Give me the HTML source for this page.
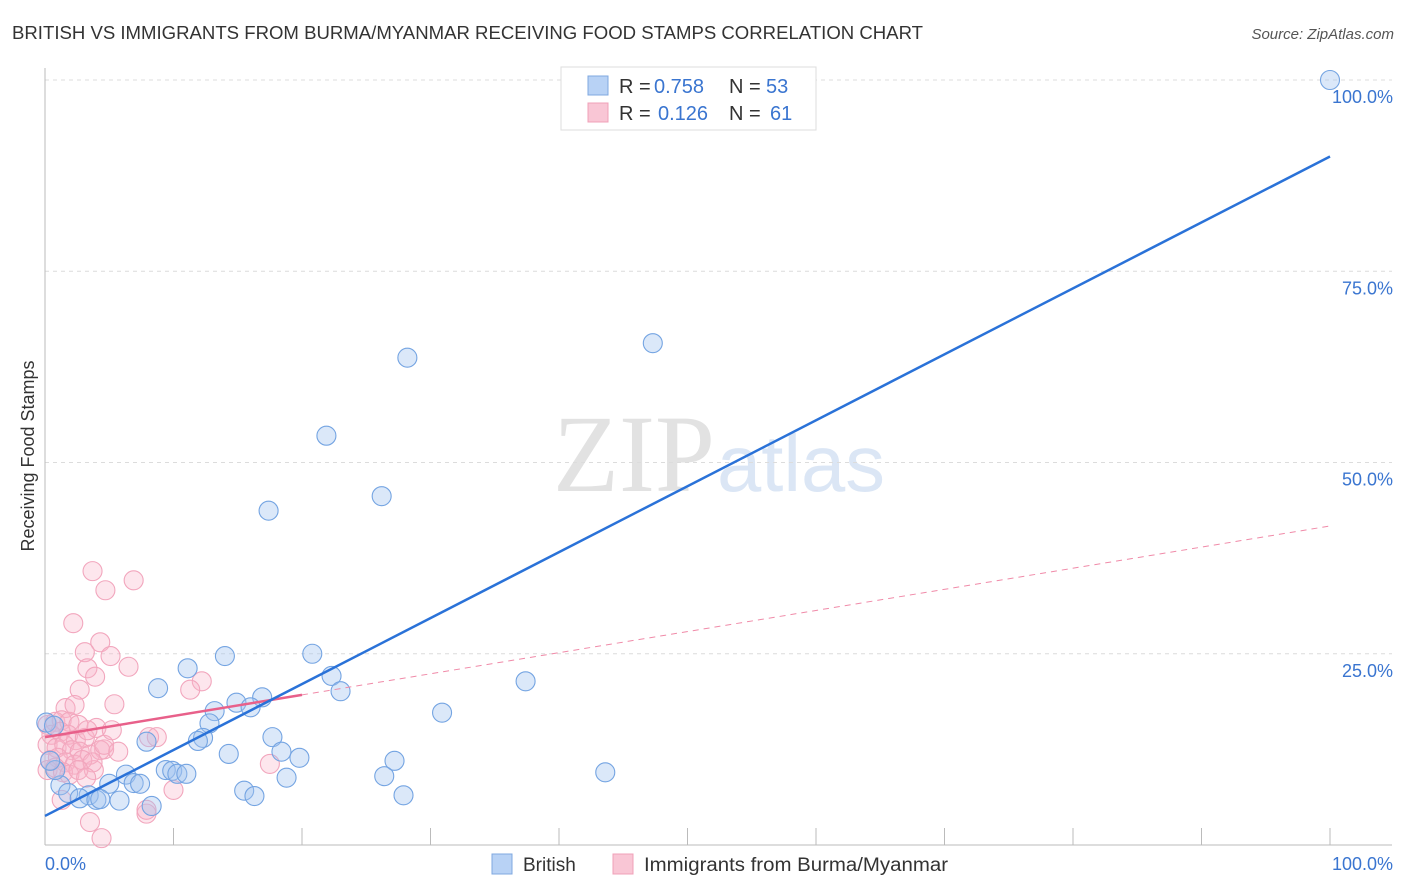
<!DOCTYPE html>
<html><head><meta charset="utf-8"><style>
body{margin:0;background:#fff;width:1406px;height:892px;overflow:hidden;font-family:"Liberation Sans",sans-serif}
svg{display:block}
</style></head><body>
<svg id="chart" width="1406" height="892">
<text x="12" y="39" font-size="18" fill="#333" textLength="911" lengthAdjust="spacingAndGlyphs">BRITISH VS IMMIGRANTS FROM BURMA/MYANMAR RECEIVING FOOD STAMPS CORRELATION CHART</text>
<text x="1394" y="39" font-size="15" fill="#555" font-style="italic" text-anchor="end">Source: ZipAtlas.com</text>
<text x="34" y="456" font-size="18" fill="#333" text-anchor="middle" transform="rotate(-90 34 456)">Receiving Food Stamps</text>
<g>
<text x="553" y="491" font-size="110" font-family="Liberation Serif,serif" fill="#e2e2e2" textLength="162" lengthAdjust="spacingAndGlyphs">ZIP</text>
<text x="717" y="491" font-size="80" fill="#dbe6f5" textLength="168" lengthAdjust="spacingAndGlyphs">atlas</text>
</g>
<g id="grid"></g>
<g id="axes"></g>
<g id="marks"></g>
<g>
<rect x="561" y="67" width="255" height="63" fill="#fff" stroke="#ddd"/>
<rect x="588" y="76" width="20" height="19" fill="#b8d2f5" stroke="#7fa8e0"/>
<rect x="588" y="103" width="20" height="19" fill="#f9c6d5" stroke="#f0a0b8"/>
<text y="93" font-size="20" fill="#333"><tspan x="619">R =</tspan><tspan x="654" fill="#3a75d0">0.758</tspan><tspan x="729">N =</tspan><tspan x="766" fill="#3a75d0">53</tspan></text>
<text y="120" font-size="20" fill="#333"><tspan x="619">R =</tspan><tspan x="658" fill="#3a75d0">0.126</tspan><tspan x="729">N =</tspan><tspan x="770" fill="#3a75d0">61</tspan></text>
</g>
<g>
<rect x="492" y="854" width="20" height="20" fill="#b8d2f5" stroke="#7fa8e0"/>
<text x="523" y="871" font-size="19" fill="#333">British</text>
<rect x="613" y="854" width="20" height="20" fill="#f9c6d5" stroke="#f0a0b8"/>
<text x="644" y="871" font-size="19" fill="#333" textLength="304" lengthAdjust="spacingAndGlyphs">Immigrants from Burma/Myanmar</text>
</g>
</svg>
<script>
const britishX=[100,47.3,28.2,21.9,26.2,17.4,20.8,14,11.1,22.3,37.4,8.8,23,16.9,14.9,16,13.2,30.9,12.8,0.1,0.7,7.9,17.7,12.3,11.9,18.4,14.3,19.8,27.2,9.4,43.6,9.9,10.3,11,26.4,6.3,18.8,5,6.9,7.4,1.2,15.5,16.3,27.9,1.8,3.4,2.7,4,4.3,5.8,8.3,0.8,0.4];
const britishY=[100,65.6,63.7,53.5,45.6,43.7,25,24.7,23.1,22.1,21.4,20.5,20.1,19.3,18.6,18,17.5,17.3,15.9,16,15.6,13.5,14.1,14,13.6,12.2,11.9,11.4,11,9.8,9.5,9.7,9.3,9.3,9,9.2,8.8,8,8.1,8,7.8,7.1,6.4,6.5,6.8,6.5,6.1,5.9,6,5.8,5.1,9.8,11];
const burmaX=[3.7,6.9,4.7,2.2,4.3,3.1,5.1,6.5,3.3,3.9,12.2,2.7,11.3,5.4,1.6,8.1,8.7,17.5,4.6,3.8,10,7.9,3.5,4.4,7.9,0.2,0.8,1.3,1.9,2.6,0.5,1.2,1.8,2.4,3.1,0.2,0.9,1.5,2.1,2.7,3.5,4.3,0.4,1,1.6,2.3,2.9,3.7,0.2,0.8,1.4,1.9,2.6,3.2,4.6,4,3.3,5.2,5.7,2.3,1.3];
const burmaY=[35.8,34.6,33.3,29,26.5,25.2,24.7,23.3,23.1,22,21.4,20.3,20.3,18.4,17.9,14.1,14.1,10.6,12.5,9.8,7.2,4.1,3,0.9,4.6,15.7,16.1,16.3,16.1,15.7,14.4,14.8,14.4,13.7,14,13.1,12.7,13.1,12.4,12.2,11.8,12.4,11.1,11.4,10.8,10.5,11.1,10.8,9.8,10.1,9.5,9.2,9.8,8.8,13.1,15.3,15,15,12.2,18.3,5.9];
const yTicks=[25,50,75,100];
const yTickLabels=["25.0%","50.0%","75.0%","100.0%"];
const britishTrend=[3.8,90];
const burmaTrend=[14.1,41.7];
const burmaSolidEnd=20;

const NS="http://www.w3.org/2000/svg";
const X0=45,X1=1330,Y0=845,Y100=80;
const sx=v=>X0+v/100*(X1-X0);
const sy=v=>Y0-v/100*(Y0-Y100);
function mk(tag,attrs,parent){const e=document.createElementNS(NS,tag);for(const k in attrs)e.setAttribute(k,attrs[k]);parent.appendChild(e);return e;}
const grid=document.getElementById('grid'),axes=document.getElementById('axes'),marks=document.getElementById('marks');
yTicks.forEach((t,i)=>{
 const l=mk('line',{x1:X0,x2:1392,y1:sy(t),y2:sy(t),stroke:'#dcdcdc','stroke-dasharray':'4,4'},grid);
 
 
 const tx=mk('text',{x:1393,y:sy(t)+23,'font-size':18,fill:'#3a75d0','text-anchor':'end'},axes);
 tx.textContent=yTickLabels[i];
 
 
});
let a=mk('line',{x1:X0,x2:X0,y1:68,y2:Y0,stroke:'#bbb'},axes);


a=mk('line',{x1:X0,x2:1392,y1:Y0,y2:Y0,stroke:'#bbb'},axes);


for(let k=1;k<=10;k++){const t=mk('line',{x1:sx(k*10),x2:sx(k*10),y1:Y0,y2:828,stroke:'#bbb'},axes);
 
 }
let xl=mk('text',{x:45,y:870,'font-size':18,fill:'#3a75d0'},axes);xl.textContent='0.0%';


xl=mk('text',{x:1393,y:870,'font-size':18,fill:'#3a75d0','text-anchor':'end'},axes);xl.textContent='100.0%';


burmaX.forEach((x,i)=>{const c=mk('circle',{cx:sx(x),cy:sy(burmaY[i]),r:9.5,fill:'rgba(248,180,200,0.33)',stroke:'#f2a6bd','stroke-width':1.1},marks);
 
 });
britishX.forEach((x,i)=>{const c=mk('circle',{cx:sx(x),cy:sy(britishY[i]),r:9.5,fill:'rgba(160,195,240,0.38)',stroke:'#74a4e2','stroke-width':1.1},marks);
 
 });
const by=x=>burmaTrend[0]+(burmaTrend[1]-burmaTrend[0])*x/100;
let tl=mk('line',{x1:sx(burmaSolidEnd),y1:sy(by(burmaSolidEnd)),x2:sx(100),y2:sy(burmaTrend[1]),stroke:'#f08aa8','stroke-width':1,'stroke-dasharray':'6,5'},marks);


tl=mk('line',{x1:sx(0),y1:sy(burmaTrend[0]),x2:sx(burmaSolidEnd),y2:sy(by(burmaSolidEnd)),stroke:'#e8608a','stroke-width':2.5},marks);


tl=mk('line',{x1:sx(0),y1:sy(britishTrend[0]),x2:sx(100),y2:sy(britishTrend[1]),stroke:'#2a72d8','stroke-width':2.5},marks);


</script>
</body></html>
